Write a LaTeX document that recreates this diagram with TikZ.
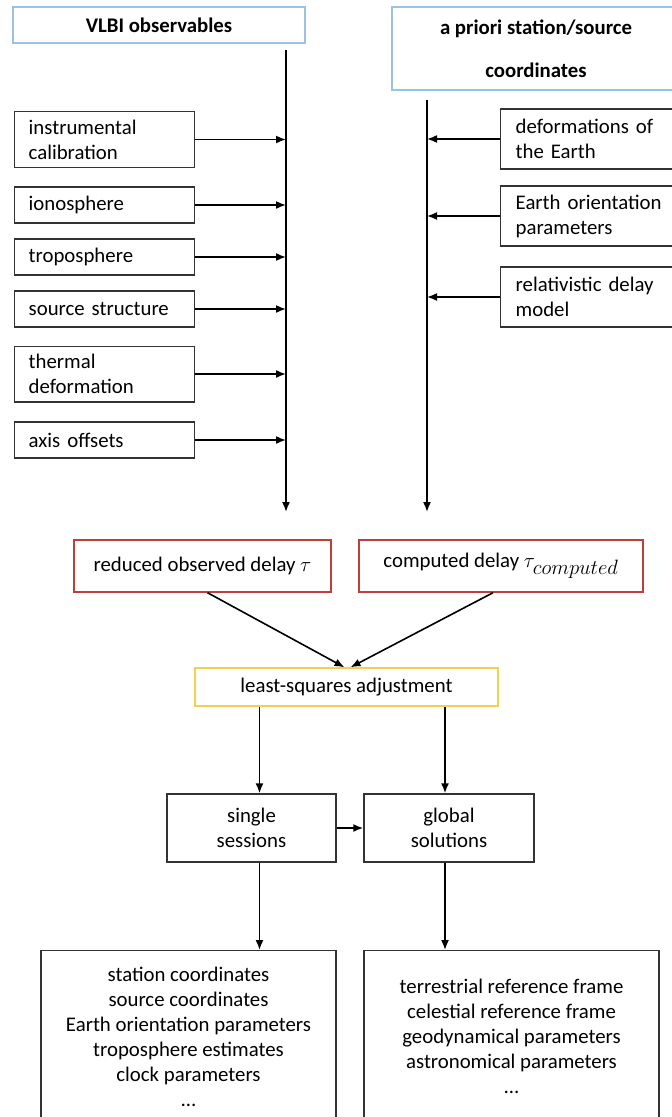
\documentclass[tikz,border=0pt]{standalone}
\usepackage{fontspec}
\setmainfont{Carlito}
\usetikzlibrary{arrows.meta}

\definecolor{headblue}{RGB}{155,194,230}
\definecolor{delayred}{RGB}{190,62,62}
\definecolor{adjyellow}{RGB}{240,210,80}

\tikzset{
  box/.style={draw=black!80, line width=1.4pt, font=\fontsize{20.8}{25}\selectfont},
  corrbox/.style={box, anchor=west, align=left, text width=152pt, inner xsep=14pt, inner ysep=8pt, minimum height=36pt},
  modelbox/.style={corrbox, text width=170pt, inner xsep=15pt, minimum height=60pt},
  headbox/.style={box, draw=headblue, font=\fontsize{20.8}{43}\selectfont\bfseries, align=center},
  delaybox/.style={box, draw=delayred, minimum height=52pt},
  resbox/.style={box, anchor=north, align=center, minimum width=295pt, minimum height=172pt},
  arr/.style={-{Latex[length=10pt,width=8pt]}, line width=1.6pt}
}

\begin{document}
\begin{tikzpicture}[x=1pt,y=-1pt]
\path[use as bounding box] (0,0) rectangle (672,1117);
\clip (0,0) rectangle (672,1117);

% inputs
\node[headbox, minimum width=292pt, minimum height=36pt] (vlbi) at (159,25) {VLBI observables};
\node[headbox, minimum width=288pt, minimum height=83pt] (apriori) at (536,48.5) {a priori station/source\\coordinates};

\coordinate (vlTop) at (286,50);
\coordinate (vlBot) at (286,512);
\coordinate (vrTop) at (427,100);
\coordinate (vrBot) at (427,512);
\draw[arr] (vlTop) -- (vlBot);
\draw[arr] (vrTop) -- (vrBot);

% corrections
\node[corrbox] (instr) at (14,139.5) {instrumental\\calibration};
\node[corrbox] (iono)  at (14,205) {ionosphere};
\node[corrbox] (tropo) at (14,257) {troposphere};
\node[corrbox] (src)   at (14,309) {source structure};
\node[corrbox] (therm) at (14,374) {thermal\\deformation};
\node[corrbox] (axis)  at (14,440) {axis offsets};
\foreach \n in {instr,iono,tropo,src,therm,axis}
  \draw[arr] (\n.east) -- (\n.east -| vlTop);

% models
\node[modelbox] (deform) at (500,139) {deformations of\\the Earth};
\node[modelbox] (eop)    at (500,216) {Earth orientation\\parameters};
\node[modelbox] (rel)    at (500,297) {relativistic delay\\model};
\foreach \n in {deform,eop,rel}
  \draw[arr] (\n.west) -- (\n.west -| vrTop);

% delays
\node[delaybox, minimum width=257pt] (obs)  at (202.5,566) {reduced observed delay $\tau$};
\node[delaybox, minimum width=284pt] (comp) at (501,566) {computed delay $\tau_{\textstyle computed}$};
\node[box, draw=adjyellow, minimum width=303pt, minimum height=38pt] (adj) at (346.5,687) {least-squares adjustment};
\draw[arr] ([xshift=5pt]obs.south) -- ([xshift=-2pt]adj.north);
\draw[arr] ([xshift=-8pt]comp.south) -- ([xshift=4pt]adj.north);

% solutions
\node[box, align=center, minimum width=169pt, minimum height=68pt] (single) at (251.5,828) {single\\sessions};
\node[box, align=center, minimum width=170pt, minimum height=68pt] (glob) at (449,828) {global\\solutions};
\draw[arr] ([xshift=8pt]single.north |- adj.south) -- ([xshift=8pt]single.north);
\draw[arr] ([xshift=-4pt]glob.north |- adj.south) -- ([xshift=-4pt]glob.north);
\draw[arr] (single.east) -- (glob.west);

\node[resbox] (res1) at (188.5,950) {station coordinates\\source coordinates\\Earth orientation parameters\\troposphere estimates\\clock parameters\\\dots};
\node[resbox] (res2) at (511.5,950) {terrestrial reference frame\\celestial reference frame\\geodynamical parameters\\astronomical parameters\\\dots};
\draw[arr] ([xshift=8pt]single.south) -- ([xshift=8pt]single.south |- res1.north);
\draw[arr] ([xshift=-4pt]glob.south) -- ([xshift=-4pt]glob.south |- res2.north);
\end{tikzpicture}
\end{document}
